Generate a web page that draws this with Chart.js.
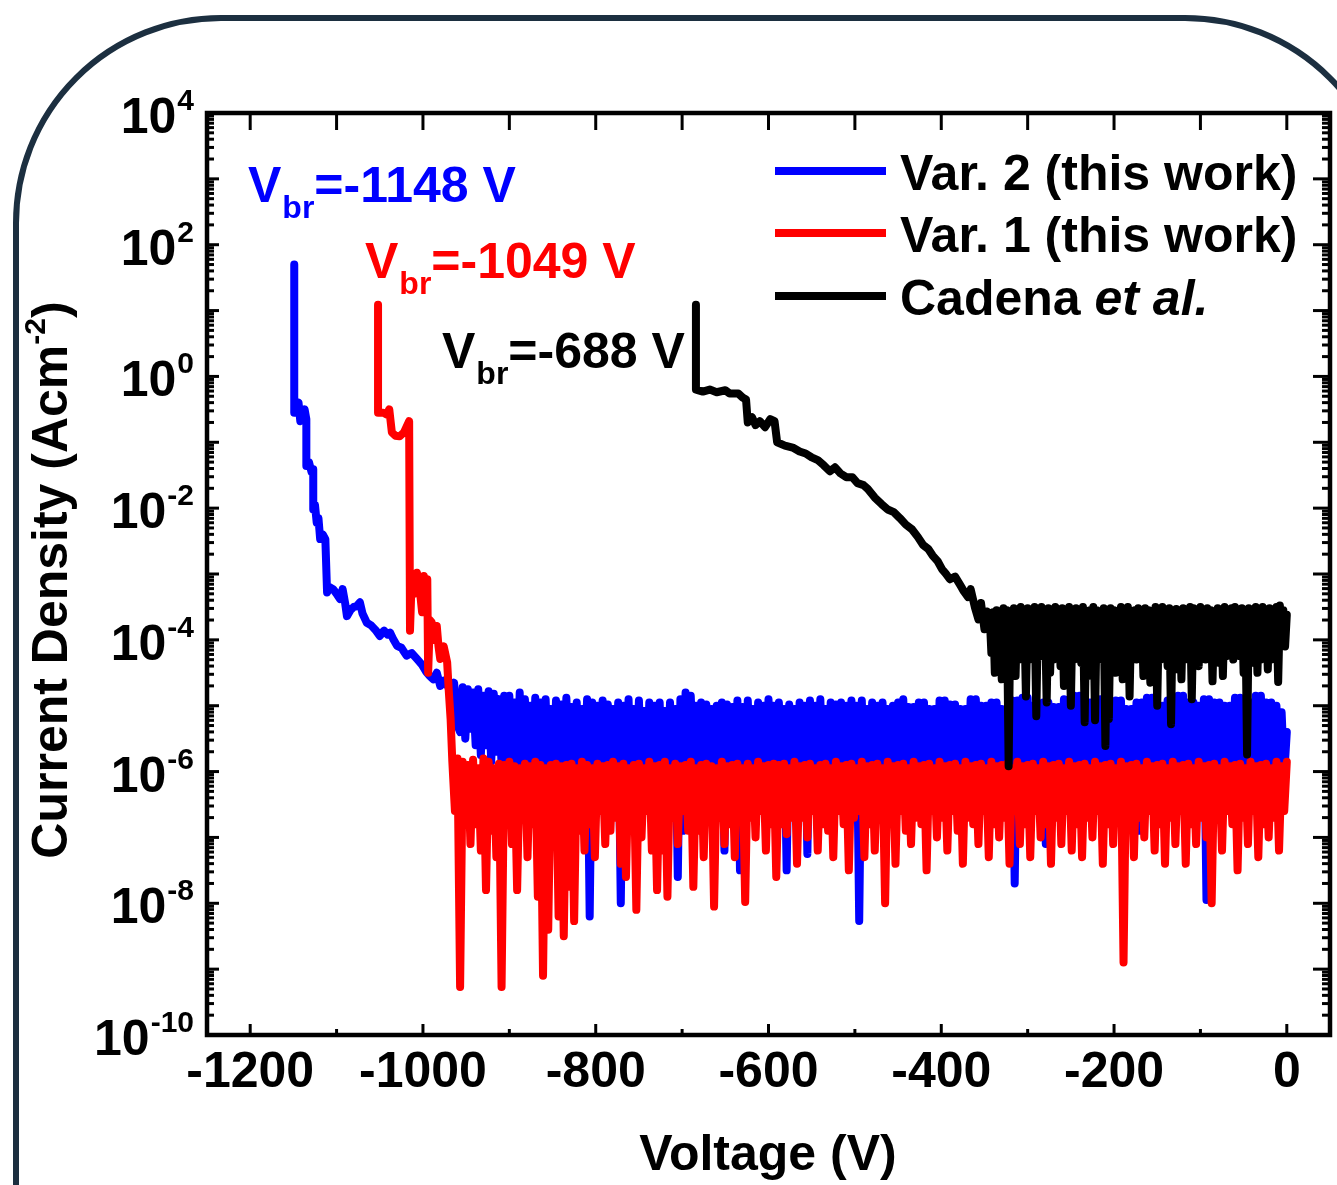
<!DOCTYPE html>
<html><head><meta charset="utf-8">
<script src="https://cdn.jsdelivr.net/npm/chart.js@4.4.1/dist/chart.umd.min.js"></script>
<style>html,body{margin:0;padding:0;background:#fff;overflow:hidden}#wrap{width:1337px;height:1185px}</style>
</head><body><div id="wrap"><canvas id="c" width="1337" height="1185"></canvas></div>
<script>
// ---------- axis ticks ----------
const xTickValues = [-1200, -1000, -800, -600, -400, -200, 0];
const xTickLabels = ['-1200', '-1000', '-800', '-600', '-400', '-200', '0'];
const xMinorTicks = [-1100, -900, -700, -500, -300, -100];
const yTickExps = [4, 2, 0, -2, -4, -6, -8, -10];
const yTickLabels = ['4', '2', '0', '-2', '-4', '-6', '-8', '-10'];

// ---------- series: Var. 2 (this work), blue : voltage (V) and log10 J (A/cm2) ----------
const blueV = [
-1149,-1149,-1146,-1144,-1142,-1139,-1137,-1135,-1135,-1132,
-1129,-1127,-1127,-1125,-1123,-1121,-1119,-1116,-1113,-1111,
-1108,-1104,-1100,-1096,-1093,-1090,-1088,-1084,-1080,-1077,
-1073,-1070,-1065,-1060,-1055,-1050,-1045,-1041,-1038,-1034,
-1030,-1025,-1019,-1013,-1007,-1001,-996,-992,-988,-984,
-980,-976,-972,-968,-964,-960,
-957,-954,-951,-948,-945,-942,-939,-936,-933,-930,
-927,-924,-921,-918,-915,-912,-909,-906,-903,
-900,-897,-894,-891,-888,-885,-882,-879,-876,-873,
-870,-867,-864,-861,-858,-855,-852,-849,-846,-843,
-840,-837,-834,-831,-828,-825,-822,-819,-816,-813,
-810,-807,-804,-801,-798,-795,-792,-789,-786,-783,
-780,-777,-774,-771,-768,-765,-762,-759,-756,-753,
-750,-747,-744,-741,-738,-735,-732,-729,-726,-723,
-720,-717,-714,-711,-708,-705,-702,-699,-696,-693,
-690,-687,-684,-681,-678,-675,-672,-669,-666,-663,
-660,-657,-654,-651,-648,-645,-642,-639,-636,-633,
-630,-627,-624,-621,-618,-615,-612,-609,-606,-603,
-600,-597,-594,-591,-588,-585,-582,-579,-576,-573,
-570,-567,-564,-561,-558,-555,-552,-549,-546,-543,
-540,-537,-534,-531,-528,-525,-522,-519,-516,-513,
-510,-507,-504,-501,-498,-495,-492,-489,-486,-483,
-480,-477,-474,-471,-468,-465,-462,-459,-456,-453,
-450,-447,-444,-441,-438,-435,-432,-429,-426,-423,
-420,-417,-414,-411,-408,-405,-402,-399,-396,-393,
-390,-387,-384,-381,-378,-375,-372,-369,-366,-363,
-360,-357,-354,-351,-348,-345,-342,-339,-336,-333,
-330,-327,-324,-321,-318,-315,-312,-309,-306,-303,
-300,-297,-294,-291,-288,-285,-282,-279,-276,-273,
-270,-267,-264,-261,-258,-255,-252,-249,-246,-243,
-240,-237,-234,-231,-228,-225,-222,-219,-216,-213,
-210,-207,-204,-201,-198,-195,-192,-189,-186,-183,
-180,-177,-174,-171,-168,-165,-162,-159,-156,-153,
-150,-147,-144,-141,-138,-135,-132,-129,-126,-123,
-120,-117,-114,-111,-108,-105,-102,-99,-96,-93,
-90,-87,-84,-81,-78,-75,-72,-69,-66,-63,
-60,-57,-54,-51,-48,-45,-42,-39,-36,-33,
-30,-27,-24,-21,-18,-15,-12,-9,-6,-3,
0];
const blueLogJ = [
1.70,-0.55,-0.42,-0.40,-0.68,-0.55,-0.50,-0.65,-1.36,-1.30,
-1.45,-1.41,-2.02,-1.95,-2.22,-2.15,-2.47,-2.40,-2.47,-3.28,
-3.20,-3.23,-3.30,-3.38,-3.23,-3.45,-3.64,-3.55,-3.50,-3.49,
-3.43,-3.60,-3.74,-3.78,-3.85,-3.94,-3.86,-3.92,-3.89,-4.00,
-4.09,-4.12,-4.24,-4.20,-4.29,-4.38,-4.49,-4.55,-4.60,-4.50,
-4.70,-4.62,-4.68,-4.80,-4.65,-5.30,
-5.40,-4.72,-5.50,-4.75,-5.35,-4.80,-5.60,-4.75,-5.75,-4.85,
-5.60,-4.78,-5.85,-4.82,-5.70,-4.90,-5.90,-4.85,-5.95,
-4.85,-5.95,-4.95,-6.05,-4.80,-6.30,-4.90,-5.90,-5.00,-6.10,
-4.88,-6.00,-4.95,-6.20,-4.90,-5.95,-5.05,-6.40,-4.92,-6.05,
-4.98,-6.10,-4.88,-5.95,-5.02,-6.20,-4.95,-6.60,-5.05,-6.00,
-4.90,-8.20,-4.95,-6.05,-5.00,-6.15,-4.92,-6.90,-4.98,-6.00,
-5.05,-6.10,-4.95,-8.00,-5.00,-6.20,-4.90,-6.30,-5.05,-6.00,
-4.92,-6.05,-5.08,-6.15,-4.95,-6.20,-5.00,-6.00,-4.95,-6.10,
-5.08,-6.00,-4.95,-6.40,-5.05,-7.60,-4.90,-6.90,-4.80,-6.10,
-4.85,-6.00,-5.00,-6.05,-4.95,-6.35,-4.98,-6.00,-5.05,-6.15,
-5.00,-6.05,-4.95,-7.20,-4.98,-6.00,-5.02,-6.10,-4.92,-7.50,
-5.02,-6.10,-4.92,-6.00,-5.05,-6.25,-4.95,-6.00,-5.00,-6.10,
-4.90,-6.05,-5.00,-6.30,-4.95,-6.00,-5.05,-7.50,-4.98,-6.05,
-5.05,-6.10,-4.95,-6.00,-5.00,-7.25,-4.92,-6.05,-5.00,-6.15,
-4.90,-6.00,-5.05,-6.20,-4.95,-6.45,-4.98,-6.00,-4.95,-6.10,
-5.00,-6.05,-4.92,-6.00,-5.00,-8.27,-4.92,-6.10,-5.05,-6.00,
-4.95,-6.30,-5.00,-6.05,-4.95,-6.00,-5.05,-6.15,-5.00,-6.05,
-4.95,-6.50,-4.90,-6.00,-5.02,-6.10,-5.02,-6.20,-4.95,-6.00,
-4.95,-6.05,-5.05,-6.00,-5.05,-6.60,-4.92,-6.10,-4.92,-6.00,
-4.98,-6.15,-4.98,-6.25,-5.05,-6.00,-5.05,-6.10,-4.90,-6.05,
-4.90,-6.00,-5.00,-6.10,-5.00,-6.40,-4.95,-6.00,-4.95,-6.05,
-5.05,-6.00,-5.05,-6.10,-4.92,-7.70,-4.92,-6.00,-4.88,-6.05,
-4.88,-6.30,-5.00,-6.00,-5.00,-6.15,-4.95,-7.10,-4.95,-6.05,
-5.02,-6.00,-5.02,-6.20,-4.90,-6.05,-4.90,-6.00,-4.85,-6.10,
-4.85,-6.35,-4.95,-6.00,-4.95,-6.05,-4.90,-6.20,-4.90,-6.10,
-5.00,-6.05,-5.00,-6.50,-4.92,-6.00,-4.92,-6.10,-5.05,-6.00,
-5.05,-6.05,-4.95,-6.90,-4.95,-6.10,-4.88,-6.00,-4.88,-6.05,
-5.00,-6.10,-5.00,-6.30,-4.92,-6.00,-4.92,-6.05,-4.85,-6.10,
-4.85,-6.20,-4.95,-6.00,-4.95,-6.10,-5.00,-6.00,-4.90,-7.95,
-4.90,-6.10,-4.95,-6.00,-4.95,-6.25,-5.00,-6.05,-5.00,-6.00,
-4.88,-6.05,-4.88,-6.40,-4.95,-6.10,-4.95,-6.00,-4.85,-6.05,
-4.85,-6.20,-4.95,-6.00,-4.95,-6.10,-5.00,-6.00,-5.10,-6.05,
-5.40];

// ---------- series: Var. 1 (this work), red ----------
const redV = [
-1052,-1052,-1046,-1042,-1039,-1036,-1032,-1027,-1022,-1016,
-1015,-1013,-1010,-1007,-1004,-1001,-999,-997,-995,-994,
-992,-990,-987,-984,-982,-980,-976,-972,-970,-968,
-966,
-963,-960,-957,-954,-951,-948,-945,-942,-939,-936,
-933,-930,-927,-924,-921,-918,-915,-912,-909,-906,
-903,-900,-897,-894,-891,-888,-885,-882,-879,-876,
-873,-870,-867,-864,-861,-858,-855,-852,-849,-846,
-843,-840,-837,-834,-831,-828,-825,-822,-819,-816,
-813,-810,-807,-804,-801,-798,-795,-792,-789,-786,
-783,-780,-777,-774,-771,-768,-765,-762,-759,-756,
-753,-750,-747,-744,-741,-738,-735,-732,-729,-726,
-723,-720,-717,-714,-711,-708,-705,-702,-699,-696,
-693,-690,-687,-684,-681,-678,-675,-672,-669,-666,
-663,-660,-657,-654,-651,-648,-645,-642,-639,-636,
-633,-630,-627,-624,-621,-618,-615,-612,-609,-606,
-603,-600,-597,-594,-591,-588,-585,-582,-579,-576,
-573,-570,-567,-564,-561,-558,-555,-552,-549,-546,
-543,-540,-537,-534,-531,-528,-525,-522,-519,-516,
-513,-510,-507,-504,-501,-498,-495,-492,-489,-486,
-483,-480,-477,-474,-471,-468,-465,-462,-459,-456,
-453,-450,-447,-444,-441,-438,-435,-432,-429,-426,
-423,-420,-417,-414,-411,-408,-405,-402,-399,-396,
-393,-390,-387,-384,-381,-378,-375,-372,-369,-366,
-363,-360,-357,-354,-351,-348,-345,-342,-339,-336,
-333,-330,-327,-324,-321,-318,-315,-312,-309,-306,
-303,-300,-297,-294,-291,-288,-285,-282,-279,-276,
-273,-270,-267,-264,-261,-258,-255,-252,-249,-246,
-243,-240,-237,-234,-231,-228,-225,-222,-219,-216,
-213,-210,-207,-204,-201,-198,-195,-192,-189,-186,
-183,-180,-177,-174,-171,-168,-165,-162,-159,-156,
-153,-150,-147,-144,-141,-138,-135,-132,-129,-126,
-123,-120,-117,-114,-111,-108,-105,-102,-99,-96,
-93,-90,-87,-84,-81,-78,-75,-72,-69,-66,
-63,-60,-57,-54,-51,-48,-45,-42,-39,-36,
-33,-30,-27,-24,-21,-18,-15,-12,-9,-6,
-3,0];
const redLogJ = [
1.09,-0.55,-0.55,-0.58,-0.50,-0.85,-0.90,-0.91,-0.85,-0.68,
-3.86,-3.05,-3.30,-2.98,-3.20,-3.58,-3.03,-3.25,-3.08,-4.50,
-3.70,-3.73,-4.00,-3.79,-4.10,-4.29,-4.10,-4.34,-4.80,-5.20,
-5.85,
-6.60,-5.80,-9.27,-5.85,-6.50,-5.90,-7.10,-5.82,-6.80,-5.95,
-7.20,-5.80,-7.80,-5.85,-6.90,-5.95,-7.30,-5.88,-9.27,-5.90,
-6.70,-5.85,-7.10,-5.92,-7.80,-5.95,-6.60,-5.88,-7.30,-5.92,
-6.80,-5.85,-7.90,-5.90,-9.10,-5.95,-8.40,-5.90,-7.00,-5.88,
-8.20,-5.92,-8.50,-5.90,-7.75,-5.88,-8.27,-5.95,-6.90,-5.85,
-7.20,-5.90,-6.80,-5.95,-7.30,-5.88,-6.60,-5.92,-7.10,-5.90,
-6.90,-5.85,-6.70,-5.92,-7.40,-5.88,-7.60,-5.95,-6.70,-5.90,
-8.10,-5.88,-7.00,-5.95,-6.60,-5.85,-7.20,-5.92,-7.80,-5.90,
-7.20,-5.85,-7.90,-5.95,-6.70,-5.88,-7.10,-5.92,-6.60,-5.90,
-6.90,-5.85,-7.75,-5.95,-6.90,-5.90,-7.30,-5.88,-6.70,-5.92,
-8.05,-5.95,-6.70,-5.85,-7.10,-5.92,-6.80,-5.90,-7.30,-5.88,
-6.70,-5.95,-7.98,-5.88,-6.70,-5.95,-7.00,-5.85,-6.60,-5.92,
-7.20,-5.90,-6.80,-5.88,-7.60,-5.90,-6.80,-5.88,-6.95,-5.95,
-6.70,-5.85,-7.40,-5.92,-6.70,-5.90,-7.00,-5.88,-6.60,-5.95,
-7.20,-5.90,-6.80,-5.88,-6.90,-5.95,-7.30,-5.85,-6.60,-5.92,
-6.80,-5.90,-7.50,-5.88,-6.70,-5.95,-6.60,-5.85,-7.30,-5.92,
-6.80,-5.90,-7.20,-5.88,-6.70,-5.95,-8.00,-5.85,-6.70,-5.92,
-7.40,-5.90,-6.60,-5.88,-6.90,-5.95,-7.10,-5.85,-6.70,-5.92,
-6.80,-5.90,-7.50,-5.88,-6.60,-5.95,-7.00,-5.85,-6.70,-5.92,
-7.20,-5.90,-6.60,-5.88,-6.90,-5.95,-7.40,-5.85,-6.70,-5.92,
-6.80,-5.90,-7.10,-5.88,-6.60,-5.95,-7.30,-5.85,-6.80,-5.92,
-7.00,-5.90,-6.70,-5.88,-7.40,-5.95,-6.60,-5.85,-7.10,-5.92,
-6.80,-5.90,-7.30,-5.88,-6.60,-5.95,-7.00,-5.85,-6.80,-5.92,
-7.40,-5.90,-6.70,-5.88,-7.10,-5.95,-6.60,-5.85,-7.20,-5.92,
-6.80,-5.90,-7.30,-5.88,-6.70,-5.95,-7.00,-5.85,-6.60,-5.92,
-7.40,-5.90,-6.80,-5.88,-7.10,-5.95,-6.60,-5.85,-8.90,-5.92,
-6.80,-5.90,-7.30,-5.88,-6.70,-5.95,-7.00,-5.85,-6.60,-5.92,
-7.20,-5.90,-6.80,-5.88,-7.40,-5.95,-6.70,-5.85,-7.10,-5.92,
-6.60,-5.90,-7.40,-5.88,-6.80,-5.95,-7.10,-5.85,-6.70,-5.92,
-7.00,-5.90,-8.00,-5.88,-6.70,-5.95,-7.20,-5.85,-6.60,-5.92,
-6.80,-5.90,-7.50,-5.88,-6.70,-5.95,-7.10,-5.85,-6.60,-5.92,
-7.30,-5.90,-6.80,-5.88,-7.00,-5.95,-6.70,-5.85,-7.20,-5.92,
-6.60,-5.85];

// ---------- series: Cadena et al., black ----------
const blackV = [
-684,-684,-676,-668,-660,-650,-645,-635,-630,-626,
-624,-619,-615,-610,-604,-598,-593,-590,-581,-572,
-564,-557,-550,-543,-536,-529,-523,-517,-510,-503,
-497,-490,-485,-477,-469,-462,-455,-448,-441,-434,
-427,-421,-415,-410,-404,-399,-395,-390,-384,-378,
-374,-369,-366,-361,-357,-354,-350,-347,
-344,-342,-340,-338,-336,-334,-332,-330,-328,-326,
-324,-322,-320,-318,-316,-314,-312,-310,-308,-306,
-304,-302,-300,-298,-296,-294,-292,-290,-288,-286,
-284,-282,-280,-278,-276,-274,-272,-270,-268,-266,
-264,-262,-260,-258,-256,-254,-252,-250,-248,-246,
-244,-242,-240,-238,-236,-234,-232,-230,-228,-226,
-224,-222,-220,-218,-216,-214,-212,-210,-208,-206,
-204,-202,-200,-198,-196,-194,-192,-190,-188,-186,
-184,-182,-180,-178,-176,-174,-172,-170,-168,-166,
-164,-162,-160,-158,-156,-154,-152,-150,-148,-146,
-144,-142,-140,-138,-136,-134,-132,-130,-128,-126,
-124,-122,-120,-118,-116,-114,-112,-110,-108,-106,
-104,-102,-100,-98,-96,-94,-92,-90,-88,-86,
-84,-82,-80,-78,-76,-74,-72,-70,-68,-66,
-64,-62,-60,-58,-56,-54,-52,-50,-48,-46,
-44,-42,-40,-38,-36,-34,-32,-30,-28,-26,
-24,-22,-20,-18,-16,-14,-12,-10,-8,-6,
-4,-2,0];
const blackLogJ = [
1.09,-0.20,-0.23,-0.20,-0.24,-0.21,-0.26,-0.26,-0.32,-0.35,
-0.70,-0.62,-0.74,-0.68,-0.77,-0.65,-0.68,-1.00,-1.05,-1.08,
-1.14,-1.17,-1.23,-1.27,-1.35,-1.44,-1.38,-1.47,-1.53,-1.53,
-1.62,-1.65,-1.71,-1.84,-1.94,-2.02,-2.06,-2.15,-2.25,-2.32,
-2.44,-2.56,-2.62,-2.72,-2.81,-2.93,-2.99,-3.08,-3.04,-3.17,
-3.26,-3.35,-3.23,-3.51,-3.69,-3.44,-3.84,-3.57,
-3.62,-4.20,-3.58,-4.50,-3.55,-4.25,-3.60,-4.60,-3.52,-4.30,
-3.55,-5.92,-3.58,-4.20,-3.52,-4.55,-3.55,-4.30,-3.50,-4.25,
-3.55,-4.86,-3.52,-4.15,-3.60,-4.30,-3.50,-5.16,-3.55,-4.25,
-3.50,-4.20,-3.58,-4.95,-3.52,-4.50,-3.56,-4.30,-3.50,-4.20,
-3.55,-4.40,-3.52,-4.70,-3.58,-4.25,-3.50,-5.00,-3.55,-4.30,
-3.52,-4.20,-3.56,-4.35,-3.50,-5.25,-3.58,-4.55,-3.55,-4.45,
-3.50,-5.22,-3.55,-4.25,-3.58,-4.30,-3.52,-5.61,-3.56,-5.20,
-3.52,-4.35,-3.55,-4.50,-3.58,-4.30,-3.50,-4.60,-3.56,-4.20,
-3.50,-4.86,-3.58,-4.15,-3.55,-4.30,-3.52,-4.20,-3.56,-4.55,
-3.52,-4.25,-3.55,-4.65,-3.60,-4.35,-3.50,-5.00,-3.55,-4.30,
-3.50,-4.20,-3.56,-4.40,-3.52,-5.28,-3.56,-4.20,-3.53,-4.45,
-3.58,-4.60,-3.52,-4.30,-3.55,-4.20,-3.50,-4.90,-3.52,-4.30,
-3.55,-4.40,-3.50,-4.15,-3.56,-4.30,-3.52,-4.20,-3.55,-4.63,
-3.56,-4.15,-3.52,-4.35,-3.58,-4.55,-3.50,-4.25,-3.55,-4.20,
-3.52,-4.30,-3.50,-4.10,-3.55,-4.25,-3.52,-4.50,-3.56,-5.74,
-3.52,-4.20,-3.57,-4.35,-3.50,-4.50,-3.55,-4.30,-3.50,-4.20,
-3.55,-4.45,-3.52,-4.30,-3.55,-4.20,-3.50,-4.64,-3.48,-4.00,
-3.55,-4.10,-3.62];

const seriesNames = ['Var. 2 (this work)', 'Var. 1 (this work)', 'Cadena'];
const seriesColors = ['#0000ff', '#ff0000', '#000000'];
const vbrLabels = ['=-1148 V', '=-1049 V', '=-688 V'];

function toPoints(v, lj) { return v.map((x, i) => ({ x: x, y: Math.pow(10, lj[i]) })); }

const FONT = '"Liberation Sans", Arial, Helvetica, sans-serif';
function drawText(ctx, s, x, y, size, color, opts) {
  opts = opts || {};
  ctx.save();
  ctx.font = (opts.italic ? 'italic ' : '') + 'bold ' + size + 'px ' + FONT;
  ctx.fillStyle = color;
  ctx.textAlign = opts.align || 'left';
  ctx.textBaseline = 'alphabetic';
  const w = ctx.measureText(s).width;
  ctx.fillText(s, x, y);
  ctx.restore();
  return w;
}
function measure(ctx, s, size, italic) {
  ctx.save(); ctx.font = (italic ? 'italic ' : '') + 'bold ' + size + 'px ' + FONT;
  const w = ctx.measureText(s).width; ctx.restore(); return w;
}
function seg(ctx, x1, y1, x2, y2) { ctx.beginPath(); ctx.moveTo(x1, y1); ctx.lineTo(x2, y2); ctx.stroke(); }

const decor = {
  id: 'decor',
  beforeDraw(chart) {
    const ctx = chart.ctx;
    ctx.save(); ctx.fillStyle = '#ffffff'; ctx.fillRect(0, 0, chart.width, chart.height); ctx.restore();
  },
  afterDraw(chart) {
    const ctx = chart.ctx, a = chart.chartArea, xs = chart.scales.x, ys = chart.scales.y;
    ctx.save();
    ctx.strokeStyle = '#000'; ctx.lineCap = 'butt';
    ctx.lineWidth = 3;
    xTickValues.forEach(v => { const p = xs.getPixelForValue(v); seg(ctx, p, a.bottom, p, a.bottom - 11); seg(ctx, p, a.top, p, a.top + 17); });
    xMinorTicks.forEach(v => { const p = xs.getPixelForValue(v); seg(ctx, p, a.bottom, p, a.bottom - 6); seg(ctx, p, a.top, p, a.top + 17); });
    for (let e = -10; e <= 4; e++) {
      const p = ys.getPixelForValue(Math.pow(10, e));
      seg(ctx, a.left, p, a.left + 12, p); seg(ctx, a.right, p, a.right - 17, p);
      if (e < 4) for (let m = 2; m <= 9; m++) {
        const q = ys.getPixelForValue(m * Math.pow(10, e));
        seg(ctx, a.left, q, a.left + 7, q); seg(ctx, a.right, q, a.right - 8, q);
      }
    }
    ctx.lineWidth = 4.5;
    ctx.strokeRect(a.left, a.top, a.right - a.left, a.bottom - a.top);
    ctx.restore();

    xTickValues.forEach((v, i) => drawText(ctx, xTickLabels[i], xs.getPixelForValue(v), a.bottom + 52, 50, '#000', { align: 'center' }));
    yTickExps.forEach((e, i) => {
      const p = ys.getPixelForValue(Math.pow(10, e));
      const wb = measure(ctx, '10', 50), we = measure(ctx, yTickLabels[i], 30);
      const right = a.left - 13;
      const x0 = right - wb - we - 1;
      drawText(ctx, '10', x0, p + 20, 50, '#000');
      drawText(ctx, yTickLabels[i], x0 + wb + 1, p - 3, 30, '#000');
    });
    drawText(ctx, 'Voltage (V)', 768, 1170, 50, '#000', { align: 'center' });
    ctx.save();
    ctx.translate(67, 580); ctx.rotate(-Math.PI / 2);
    const t1 = 'Current Density (Acm', t2 = '-2', t3 = ')';
    const w1 = measure(ctx, t1, 50), w2 = measure(ctx, t2, 30), w3 = measure(ctx, t3, 50);
    let sx = -(w1 + w2 + w3) / 2;
    drawText(ctx, t1, sx, 0, 50, '#000'); sx += w1;
    drawText(ctx, t2, sx, -22, 30, '#000'); sx += w2;
    drawText(ctx, t3, sx, 0, 50, '#000');
    ctx.restore();

    const legY = [171, 233, 296];
    ctx.save(); ctx.lineWidth = 8; ctx.lineCap = 'butt';
    legY.forEach((y, i) => { ctx.strokeStyle = seriesColors[i]; seg(ctx, 775, y, 886, y); });
    ctx.restore();
    drawText(ctx, seriesNames[0], 900, 190, 50, '#000');
    drawText(ctx, seriesNames[1], 900, 252, 50, '#000');
    const wc = drawText(ctx, seriesNames[2] + ' ', 900, 315, 50, '#000');
    drawText(ctx, 'et al.', 900 + wc, 315, 50, '#000', { italic: true });

    const vbrPos = [[248, 202], [365, 278], [442, 368]];
    vbrPos.forEach((pp, i) => {
      let x = pp[0];
      x += drawText(ctx, 'V', x, pp[1], 50, seriesColors[i]);
      x += drawText(ctx, 'br', x + 1, pp[1] + 16, 32, seriesColors[i]) + 1;
      drawText(ctx, vbrLabels[i], x, pp[1], 50, seriesColors[i]);
    });

    ctx.save();
    ctx.strokeStyle = '#1c2f40'; ctx.lineWidth = 6;
    const R = 205, L = 16, T = 18, RR = 1390;
    ctx.beginPath();
    ctx.moveTo(L, 1300);
    ctx.lineTo(L, T + R);
    ctx.arcTo(L, T, L + R, T, R);
    ctx.lineTo(RR - R, T);
    ctx.arcTo(RR, T, RR, T + R, R);
    ctx.lineTo(RR, 1300);
    ctx.stroke();
    ctx.restore();
  }
};

const LW = 8;
function ds(label, v, lj, color) {
  return { label: label, data: toPoints(v, lj), borderColor: color, borderWidth: LW, pointRadius: 0,
           tension: 0, fill: false, borderCapStyle: 'round', borderJoinStyle: 'round' };
}
new Chart(document.getElementById('c').getContext('2d'), {
  type: 'line',
  data: {
    datasets: [
      ds('Cadena et al.', blackV, blackLogJ, seriesColors[2]),
      ds(seriesNames[1], redV, redLogJ, seriesColors[1]),
      ds(seriesNames[0], blueV, blueLogJ, seriesColors[0])
    ]
  },
  options: {
    responsive: false, animation: false, devicePixelRatio: 1, events: [],
    elements: { line: { borderWidth: LW }, point: { radius: 0 } },
    layout: { padding: { left: 207, top: 113, right: 7, bottom: 150 } },
    scales: {
      x: { type: 'linear', min: -1250, max: 50, display: false },
      y: { type: 'logarithmic', min: 1e-10, max: 1e4, display: false }
    },
    plugins: { legend: { display: false }, tooltip: { enabled: false } }
  },
  plugins: [decor]
});
</script></body></html>
